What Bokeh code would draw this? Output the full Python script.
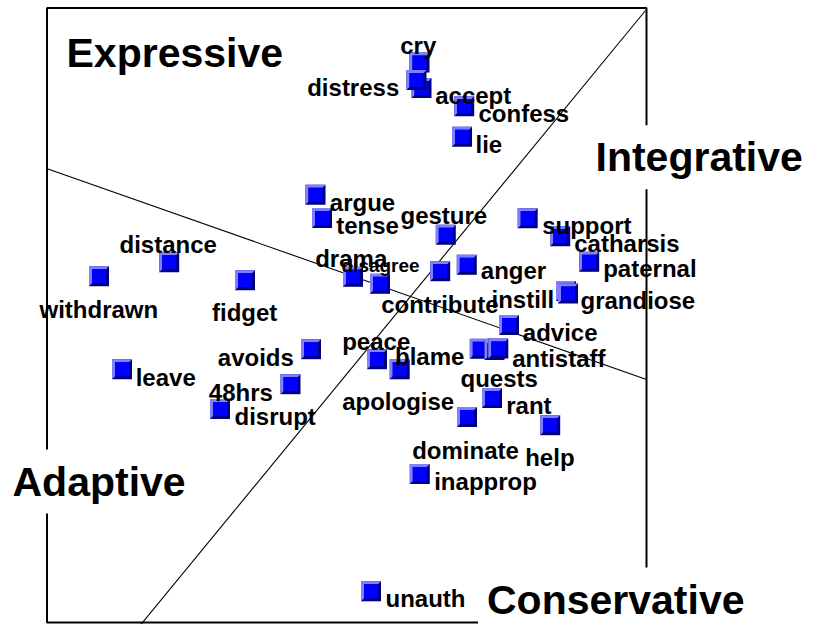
from bokeh.plotting import figure
from bokeh.models import Range1d, ColumnDataSource
from bokeh.core.properties import value
from bokeh.embed import file_html
from bokeh.resources import INLINE

# ---- data: item positions on the map (page-unit coordinates, y grows downward) ----
items = ["cry", "accept", "distress", "confess", "lie", "argue", "tense", "gesture",
         "support", "catharsis", "paternal", "distance", "withdrawn", "fidget", "drama",
         "disagree", "contribute", "anger", "instill", "grandiose", "advice", "blame",
         "quests", "antistaff", "avoids", "peace", "apologise", "leave", "48hrs",
         "disrupt", "rant", "dominate", "help", "inapprop", "unauth"]
pos_x = [419.0, 421.0, 416.0, 463.7, 461.5, 315.0, 321.5, 445.3,
         527.2, 559.7, 588.7, 168.7, 98.5, 244.5, 352.5,
         379.5, 439.7, 466.3, 565.5, 567.5, 508.5, 479.3,
         494.0, 497.8, 310.5, 376.5, 399.2, 121.5, 290.0,
         219.5, 491.5, 466.5, 549.7, 419.3, 370.5]
pos_y = [62.0, 87.5, 79.5, 105.8, 136.3, 194.3, 217.5, 234.3,
         217.7, 235.7, 261.3, 261.8, 275.7, 279.7, 276.3,
         283.3, 270.7, 264.3, 290.5, 293.0, 324.5, 348.3,
         349.5, 348.0, 348.7, 358.7, 368.8, 368.7, 383.7,
         408.5, 397.5, 416.5, 424.7, 473.5, 590.8]

# quadrant names
regions = ["Expressive", "Integrative", "Adaptive", "Conservative"]

# dividing lines (end points)
div_x = [[46.0, 646.0], [133.0, 645.0]]
div_y = [[168.0, 379.0], [633.0, 10.0]]

# ---- layout (label placement relative to each marker) ----
lab_dx = [-19.3, 13.7, -109.3, 14.3, 13.5, 14.3, 14.2, -45.3,
          14.5, 14.0, 14.0, -49.7, -59.5, -33.0, -37.8,
          -38.5, -59.0, 14.0, -74.5, 12.5, 13.8, -84.8,
          -34.0, 13.9, -93.2, -34.8, -57.5, 13.7, -81.7,
          14.5, 14.2, -54.8, -25.0, 14.4, 14.5]
lab_dy = [-17.0, 7.5, 7.8, 6.9, 7.7, 7.4, 7.5, -19.3,
          7.3, 7.0, 7.0, -17.5, 33.6, 31.8, -18.0,
          -18.8, 33.3, 5.7, 8.5, 7.0, 7.8, 7.7,
          28.2, 10.3, 8.0, -18.0, 32.2, 8.0, 8.0,
          7.5, 7.5, 33.5, 32.6, 7.5, 6.9]
lab_size = ["19px" if t == "disagree" else "24px" for t in items]
# text origin (left, baseline) of the quadrant names
region_x = [66.0, 595.0, 12.0, 486.5]
region_y = [66.7, 170.7, 495.0, 613.0]
PAD = 9           # white box padding around the quadrant names
PAD_DX, PAD_DY = PAD, 14   # shift bokeh applies to padded text
frame_l, frame_r, frame_t, frame_b = 46.5, 646.0, 7.5, 622.0

W, H = 808, 624
p = figure(width=W, height=H, output_backend="svg", toolbar_location=None,
           x_range=Range1d(0, W), y_range=Range1d(H, 0),
           min_border=0, outline_line_color=None)
p.axis.visible = False
p.grid.visible = False
p.background_fill_color = "white"
p.border_fill_color = "white"

FONT = value("Liberation Sans")

# frame box
p.quad(left=[frame_l], right=[frame_r], top=[frame_t], bottom=[frame_b],
       fill_color=None, line_color="black", line_width=2)

# dividing lines
p.multi_line(xs=div_x, ys=div_y, line_color="black", line_width=1.1)

# bevelled square markers, drawn marker by marker
HALF, BEV = 10.0, 3.0
pxs, pys, cols = [], [], []
for x, y in zip(pos_x, pos_y):
    l, r, t, b = x - HALF, x + HALF, y - HALF, y + HALF
    il, ir, it, ib = l + BEV, r - BEV, t + BEV, b - BEV
    pxs.append([l, r, r, l]); pys.append([t, t, b, b]); cols.append("#000080")
    pxs.append([l, r, ir, il, il, l]); pys.append([t, t, it, it, ib, b]); cols.append("#8080ff")
    pxs.append([il, ir, ir, il]); pys.append([it, it, ib, ib]); cols.append("#0000ff")
p.patches(xs=pxs, ys=pys, fill_color=cols, line_color=None)

# item labels
src = ColumnDataSource(dict(
    x=[x + dx for x, dx in zip(pos_x, lab_dx)],
    y=[y + dy for y, dy in zip(pos_y, lab_dy)],
    text=items, size=lab_size))
p.text(x="x", y="y", text="text", source=src, text_font=FONT, text_font_style="bold",
       text_font_size="size", text_color="black", text_align="left",
       text_baseline="alphabetic")

# quadrant labels (white box hides the frame behind them)
p.text(x=[v - PAD_DX for v in region_x], y=[v - PAD_DY for v in region_y], text=regions,
       text_font=FONT, text_font_style="bold",
       text_font_size="41px", text_color="black", text_align="left",
       text_baseline="alphabetic", background_fill_color="white", padding=PAD)

open("out.html", "w").write(file_html(p, INLINE))
